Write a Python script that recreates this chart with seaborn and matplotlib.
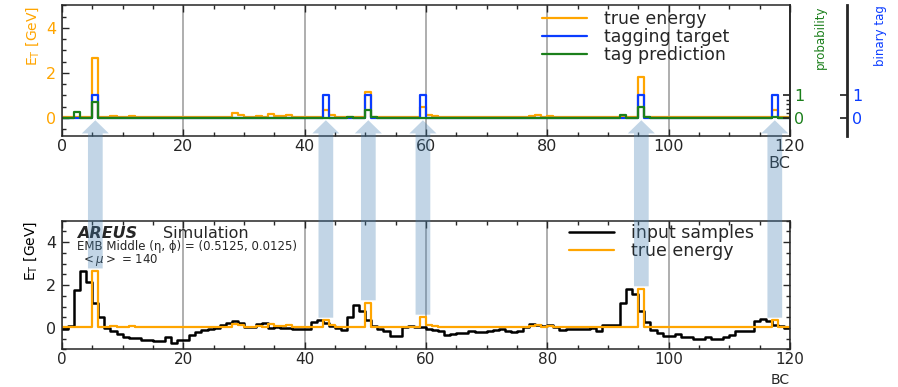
import numpy as np
import pandas as pd
import seaborn as sns
import matplotlib.pyplot as plt
from matplotlib.patches import ConnectionPatch, ArrowStyle
from matplotlib.ticker import MultipleLocator, FixedLocator, NullLocator

# bunch crossings 0..119, one value per bin
bc_edges = np.arange(121)

input_samples = [
    -0.04, 0.09, 1.76, 2.65, 2.16, 1.17, 0.5, 0.0, -0.16, -0.3,
    -0.41, -0.47, -0.47, -0.58, -0.55, -0.6, -0.6, -0.42, -0.7, -0.55,
    -0.56, -0.31, -0.17, -0.09, -0.04, 0.0, 0.13, 0.24, 0.33, 0.25,
    0.06, 0.03, 0.2, 0.24, 0.0, 0.06, 0.02, 0.0, -0.04, -0.05,
    -0.04, 0.28, 0.36, 0.25, 0.1, 0.0, -0.1, 0.53, 1.05, 0.8,
    0.36, 0.1, -0.04, -0.16, -0.36, -0.36, 0.03, 0.09, 0.06, 0.05,
    -0.03, -0.08, -0.16, -0.31, -0.27, -0.24, -0.21, -0.16, -0.19, -0.19,
    -0.16, -0.1, -0.04, -0.12, -0.19, -0.16, 0.03, 0.2, 0.13, 0.09,
    0.13, 0.03, -0.09, -0.06, -0.06, -0.04, -0.04, 0.0, -0.12, 0.12,
    0.12, 0.12, 1.17, 1.82, 1.6, 0.8, 0.3, -0.07, -0.25, -0.35,
    -0.36, -0.27, -0.44, -0.44, -0.5, -0.5, -0.44, -0.5, -0.5, -0.42,
    -0.34, -0.16, -0.16, -0.16, 0.31, 0.43, 0.31, 0.12, 0.1, 0.0,
]

true_energy = [
    0.03, 0.03, 0.03, 0.03, 0.03, 2.65, 0.03, 0.03, 0.1, 0.03,
    0.03, 0.1, 0.03, 0.03, 0.03, 0.03, 0.03, 0.03, 0.03, 0.03,
    0.03, 0.03, 0.03, 0.03, 0.03, 0.03, 0.03, 0.03, 0.2, 0.15,
    0.03, 0.03, 0.1, 0.03, 0.17, 0.1, 0.1, 0.12, 0.03, 0.03,
    0.03, 0.03, 0.03, 0.36, 0.12, 0.03, 0.03, 0.03, 0.03, 0.03,
    1.17, 0.03, 0.03, 0.03, 0.03, 0.03, 0.03, 0.03, 0.03, 0.5,
    0.13, 0.1, 0.03, 0.03, 0.03, 0.03, 0.06, 0.03, 0.05, 0.03,
    0.03, 0.03, 0.03, 0.03, 0.03, 0.03, 0.03, 0.08, 0.12, 0.03,
    0.1, 0.03, 0.03, 0.03, 0.03, 0.03, 0.03, 0.03, 0.03, 0.03,
    0.03, 0.03, 0.03, 0.03, 0.03, 1.82, 0.03, 0.03, 0.03, 0.03,
    0.03, 0.03, 0.03, 0.03, 0.03, 0.03, 0.03, 0.03, 0.03, 0.03,
    0.03, 0.03, 0.03, 0.03, 0.03, 0.03, 0.03, 0.36, 0.03, 0.03,
]

tagged_bcs = [5, 43, 50, 59, 95, 117]
tagging_target = [1 if i in tagged_bcs else 0 for i in range(120)]

tag_prediction = [0.0] * 120
for i, p in {2: 0.28, 5: 0.72, 47: 0.04, 50: 0.35, 51: 0.05,
             92: 0.13, 95: 0.5, 96: 0.05, 117: 0.03}.items():
    tag_prediction[i] = p

ORANGE = "#ffa500"
BLUE = "#0a3cff"
GREEN = "#1b7f1b"
DARK = "0.15"


def steps(values):
    return pd.DataFrame({"BC": bc_edges, "E": list(values) + [values[-1]]})


sns.set_theme(style="ticks")
plt.rcParams["font.family"] = ["DejaVu Sans"]
plt.rcParams["mathtext.fontset"] = "dejavusans"

fig = plt.figure(figsize=(8.98, 3.87), dpi=100)
ax_top = fig.add_axes([0.069, 0.6486, 0.8107, 0.3372])
ax_bot = fig.add_axes([0.069, 0.0969, 0.8107, 0.3333])

kw = dict(x="BC", y="E", drawstyle="steps-post")
sns.lineplot(data=steps(true_energy), color=ORANGE, lw=1.6, label="true energy", ax=ax_top, **kw)
sns.lineplot(data=steps(tagging_target), color=BLUE, lw=1.6, label="tagging target", ax=ax_top, **kw)
sns.lineplot(data=steps(tag_prediction), color=GREEN, lw=1.6, label="tag prediction", ax=ax_top, **kw)

sns.lineplot(data=steps(input_samples), color="black", lw=1.8, label="input samples", ax=ax_bot, **kw)
sns.lineplot(data=steps(true_energy), color=ORANGE, lw=1.6, label="true energy", ax=ax_bot, **kw)

for ax in (ax_top, ax_bot):
    ax.set_xlim(0, 120)
    ax.xaxis.set_major_locator(MultipleLocator(20))
    ax.xaxis.set_minor_locator(MultipleLocator(5))
    ax.yaxis.set_major_locator(MultipleLocator(2))
    ax.yaxis.set_minor_locator(MultipleLocator(0.5))
    ax.grid(axis="x", which="major", color="0.66", lw=1.3)
    ax.set_axisbelow(True)
    for s in ax.spines.values():
        s.set_linewidth(1.1)
        s.set_color(DARK)
    ax.tick_params(which="both", direction="in", top=True, labelsize=11.5,
                   pad=4, width=1, color=DARK)
    ax.tick_params(axis="x", pad=2.5)
    ax.tick_params(which="major", length=5)
    ax.tick_params(which="minor", length=3)
    ax.set_xlabel("BC", loc="right", fontsize=11.5, labelpad=1)

ax_top.set_ylim(-0.8, 5)
ax_bot.set_ylim(-1, 5)
ax_bot.tick_params(which="both", right=True)
ax_bot.tick_params(axis="x", labelsize=11, pad=2)
ax_top.tick_params(axis="y", labelcolor=ORANGE)

# bottom "BC" tucked in just above the figure edge
ax_bot.xaxis.label.set_fontsize(10)
ax_bot.xaxis.label.set_va("bottom")
ax_bot.xaxis.set_label_coords(1.0, -0.29)

ax_top.set_ylabel(r"E$_\mathrm{T}$ [GeV]", loc="top", color=ORANGE, fontsize=10, labelpad=4)
ax_bot.set_ylabel(r"E$_\mathrm{T}$ [GeV]", loc="top", color="black", fontsize=10, labelpad=5)

# probability axis on the right spine
ax_p = ax_top.twinx()
ax_p.set_ylim(ax_top.get_ylim())
ax_p.set_yticks([0, 1])
ax_p.yaxis.set_minor_locator(FixedLocator([0.2, 0.4, 0.6, 0.8]))
ax_p.tick_params(which="both", direction="in", labelcolor=GREEN, labelsize=11.5,
                 pad=3, color=DARK)
ax_p.tick_params(which="major", length=5)
ax_p.tick_params(which="minor", length=3)
ax_p.set_ylabel("probability", color=GREEN, loc="top", fontsize=8.5, labelpad=7)
for k in ("left", "top", "bottom"):
    ax_p.spines[k].set_visible(False)
ax_p.spines["right"].set_color(DARK)
ax_p.spines["right"].set_linewidth(1.1)

# binary tag axis, offset to the right
ax_b = ax_top.twinx()
ax_b.spines["right"].set_position(("axes", 1.078))
ax_b.spines["right"].set_color(DARK)
ax_b.spines["right"].set_linewidth(2)
for k in ("left", "top", "bottom"):
    ax_b.spines[k].set_visible(False)
ax_b.set_ylim(ax_top.get_ylim())
ax_b.set_yticks([0, 1])
ax_b.yaxis.set_minor_locator(NullLocator())
ax_b.tick_params(direction="in", length=5, labelcolor=BLUE, labelsize=11.5,
                 pad=4, color=DARK)
ax_b.set_ylabel("binary tag", color=BLUE, loc="top", fontsize=8.5, labelpad=8)

leg_kw = dict(frameon=False, fontsize=12.5, handlelength=2.6, handletextpad=1.0,
              labelspacing=0.0, borderpad=0, borderaxespad=0, loc="center left")
ax_top.legend(bbox_to_anchor=(0.6593, 0.7586), **leg_kw)
ax_bot.legend(bbox_to_anchor=(0.6964, 0.833), **leg_kw)

ax_bot.text(0.0206, 0.864, "AREUS", transform=ax_bot.transAxes, fontsize=11.5,
            fontweight="bold", fontstyle="italic", va="baseline")
ax_bot.text(0.139, 0.864, "Simulation", transform=ax_bot.transAxes,
            fontsize=11.5, va="baseline")
ax_bot.text(0.0206, 0.802, "EMB Middle (η, ϕ) = (0.5125, 0.0125)",
            transform=ax_bot.transAxes, fontsize=8.5, va="center")
ax_bot.text(0.026, 0.695, r"$<\mu>$ = 140", transform=ax_bot.transAxes,
            fontsize=8.5, va="center")

# arrows from the bottom pulses up to the tagged bunch crossings
arrow = ArrowStyle.Simple(head_length=9.5, head_width=19.5, tail_width=10.6)
for b in np.flatnonzero(np.array(tagging_target) == 1):
    con = ConnectionPatch(xyA=(b + 0.5, true_energy[b] + 0.12), coordsA=ax_bot.transData,
                          xyB=(b + 0.5, -0.1), coordsB=ax_top.transData,
                          arrowstyle=arrow, mutation_scale=1, color="steelblue",
                          alpha=0.33, lw=0, shrinkA=0, shrinkB=0)
    fig.add_artist(con)

fig.savefig("out.png", dpi=100)
